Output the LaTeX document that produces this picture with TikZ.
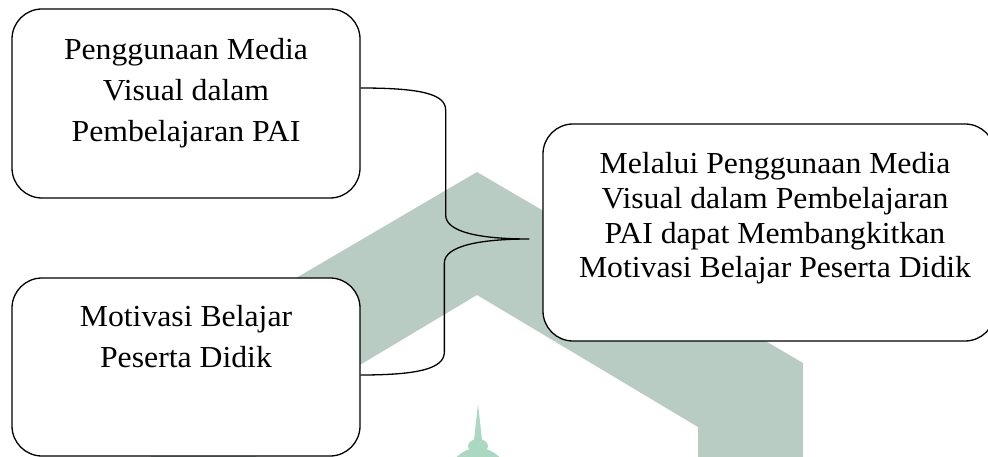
\documentclass[tikz,border=0pt]{standalone}
\usepackage{fontspec}
\setmainfont{Liberation Serif}[FakeStretch=1.04]
\definecolor{atap}{RGB}{184,204,196}
\definecolor{menara}{RGB}{170,216,192}
\begin{document}
\begin{tikzpicture}[x=1pt, y=-1pt,
    kotak/.style={draw=black, line width=1.3pt, fill=white, rounded corners=30pt},
    teks/.style={anchor=north, align=center, inner sep=0pt},
    kurung/.style={black, line width=1.3pt}]
      \useasboundingbox (0,0) rectangle (988,457);
      \clip (0,0) rectangle (988,457);
      % Logo latar belakang
      \fill[atap] (151,470) -- (151,363) -- (477,172) -- (803,363) -- (803,470)
                  -- (698,470) -- (698,427) -- (477,295) -- (256,427) -- (256,470) -- cycle;
      \fill[menara] (478,404) -- (482,440) -- (474,440) -- cycle;
      \fill[menara] (478,446) ellipse [x radius=10pt, y radius=7pt];
      \fill[menara] (478,478) ellipse [x radius=30pt, y radius=30pt];

      % Kotak
      \node[kotak, minimum width=348pt, minimum height=189pt] (media)    at (186,103.5) {};
      \node[kotak, minimum width=348pt, minimum height=178pt] (motivasi) at (186,367)   {};
      \node[kotak, minimum width=452pt, minimum height=217pt] (hasil)    at (769,232.5) {};

      \node[teks, font=\fontsize{30.5}{41}\selectfont] (media-txt) at ([yshift=-30pt]media.north)
           {Penggunaan Media\\Visual dalam\\Pembelajaran PAI};
      \node[teks, font=\fontsize{30.5}{41}\selectfont] (motivasi-txt) at ([yshift=-28pt]motivasi.north)
           {Motivasi Belajar\\Peserta Didik};
      \node[teks, font=\fontsize{30.5}{34.7}\selectfont] (hasil-txt) at ([xshift=6pt,yshift=-29pt]hasil.north)
           {Melalui Penggunaan Media\\Visual dalam Pembelajaran\\PAI dapat Membangkitkan\\Motivasi Belajar Peserta Didik};

      % Kurung kurawal
      \coordinate (atas)  at ([yshift=15.5pt]media.east);
      \coordinate (bawah) at ([yshift=-8pt]motivasi.east);
      \coordinate (ujung) at ([xshift=-13pt,yshift=-6.5pt]hasil.west);

      \draw[kurung] (atas) .. controls +(60,0) and +(0,-16) .. ++(85,22)
                    -- ++(0,105)
                    .. controls +(0,17) and +(-50,0) .. (ujung)
                    .. controls +(-50,0) and +(0,-17) .. ++(-85,24)
                    -- ++(0,89)
                    .. controls +(0,16) and +(60,0) .. (bawah);

    \end{tikzpicture}
\end{document}
